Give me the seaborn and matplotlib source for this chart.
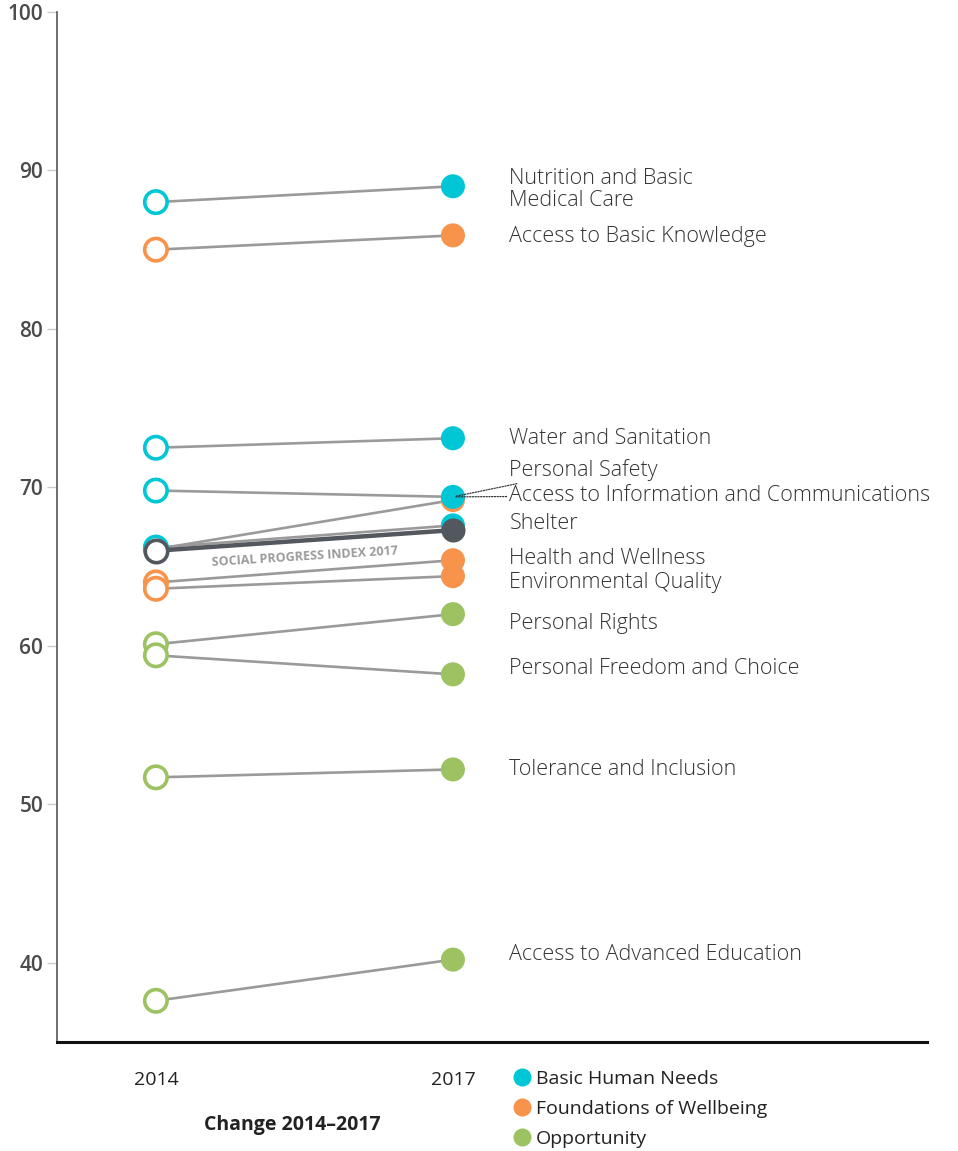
import numpy as np
import pandas as pd
import matplotlib
matplotlib.use("Agg")
import matplotlib.pyplot as plt
from matplotlib.lines import Line2D
import seaborn as sns

years = ["2014", "2017"]
components = [
    "Nutrition and Basic\nMedical Care",
    "Access to Basic Knowledge",
    "Water and Sanitation",
    "Personal Safety",
    "Access to Information and Communications",
    "Shelter",
    "Health and Wellness",
    "Environmental Quality",
    "Personal Rights",
    "Personal Freedom and Choice",
    "Tolerance and Inclusion",
    "Access to Advanced Education",
]
dimension = [
    "Basic Human Needs",
    "Foundations of Wellbeing",
    "Basic Human Needs",
    "Basic Human Needs",
    "Foundations of Wellbeing",
    "Basic Human Needs",
    "Foundations of Wellbeing",
    "Foundations of Wellbeing",
    "Opportunity",
    "Opportunity",
    "Opportunity",
    "Opportunity",
]
score_2014 = [88.0, 85.0, 72.5, 69.8, 66.1, 66.2, 64.0, 63.6, 60.1, 59.4, 51.7, 37.6]
score_2017 = [89.0, 85.9, 73.1, 69.4, 69.2, 67.6, 65.4, 64.4, 62.0, 58.2, 52.2, 40.2]
spi_name = "SOCIAL PROGRESS INDEX 2017"
spi_scores = [66.0, 67.3]

dimensions = ["Basic Human Needs", "Foundations of Wellbeing", "Opportunity"]
palette = {"Basic Human Needs": "#00c6d6",
           "Foundations of Wellbeing": "#f7934a",
           "Opportunity": "#9cc262"}

# label placement (layout only, in score units)
label_y = [88.8, 85.8, 73.1, 71.1, 69.5, 67.7, 65.5, 64.0, 61.4, 58.6, 52.2, 40.5]
label_x = 1.19

df = pd.DataFrame({
    "component": components * 2,
    "dimension": dimension * 2,
    "xpos": [0] * len(components) + [1] * len(components),
    "score": score_2014 + score_2017,
})
# basic human needs markers drawn last so they sit on top where points overlap
df["order"] = df["dimension"].map({d: -i for i, d in enumerate(dimensions)})
df = df.sort_values("order", kind="stable")
spi_df = pd.DataFrame({"component": spi_name, "xpos": [0, 1], "score": spi_scores})

plt.rcParams["font.family"] = ["Open Sans", "DejaVu Sans"]
fig, ax = plt.subplots(figsize=(9.58, 11.51), dpi=100)
fig.subplots_adjust(left=0.0595, right=0.9676, top=0.9896, bottom=0.0947)

sns.lineplot(data=df, x="xpos", y="score", units="component", estimator=None,
             color="#9a9a9a", linewidth=1.9, ax=ax, zorder=1, legend=False)

first = df[df["xpos"] == 0]
last = df[df["xpos"] == 1]
sns.scatterplot(data=first, x="xpos", y="score", hue="dimension", palette=palette,
                s=260, ax=ax, zorder=3, legend=False)
hollow = ax.collections[-1]
hollow.set_edgecolor(hollow.get_facecolor())
hollow.set_facecolor("white")
hollow.set_linewidth(2.6)
sns.scatterplot(data=last, x="xpos", y="score", hue="dimension", palette=palette,
                s=300, linewidth=0, ax=ax, zorder=3, legend=False)

# Social Progress Index on top
sns.lineplot(data=spi_df, x="xpos", y="score", color="#53575e", linewidth=3.2,
             ax=ax, zorder=4, legend=False)
ax.scatter([0], [spi_scores[0]], s=260, facecolor="white", edgecolor="#53575e",
           linewidth=2.6, zorder=5)
ax.scatter([1], [spi_scores[1]], s=300, color="#53575e", linewidth=0, zorder=5)
ax.text(0.5, np.mean(spi_scores) - 1.0, spi_name, rotation=3.6, ha="center", va="center",
        fontsize=9, fontweight="bold", color="#9a9a9a", rotation_mode="anchor")

for name, ly, val in zip(components, label_y, score_2017):
    if name in ("Personal Safety", "Access to Information and Communications"):
        ax.annotate(name, xy=(1.0, 69.4), xytext=(label_x, ly), fontsize=15.5,
                    color="#333333", va="center", ha="left", fontweight="light",
                    arrowprops=dict(arrowstyle="-", linestyle=(0, (1, 1.2)),
                                    color="#333333", linewidth=0.9,
                                    shrinkA=0, shrinkB=2))
    else:
        ax.text(label_x, ly, name, fontsize=15.5, color="#333333", va="center",
                ha="left", linespacing=1.05, fontweight="light")

ax.set_xlim(-0.333, 2.596)
ax.set_ylim(35, 100)
ax.set_yticks([40, 50, 60, 70, 80, 90, 100])
ax.set_xticks([0, 1])
ax.set_xticklabels(years)
ax.set_xlabel("")
ax.set_ylabel("")
ax.tick_params(axis="y", length=7, width=1, color="#cccccc", labelsize=15,
               labelcolor="#4a4a4a", pad=3)
ax.tick_params(axis="x", length=0, labelsize=14, labelcolor="#222222", pad=21)
for lab in ax.get_yticklabels():
    lab.set_fontweight("semibold")
for side in ("top", "right"):
    ax.spines[side].set_visible(False)
ax.spines["left"].set_color("#555555")
ax.spines["left"].set_linewidth(1.2)
ax.spines["bottom"].set_color("#111111")
ax.spines["bottom"].set_linewidth(2.2)

fig.text(292 / 958, 1 - 1125 / 1151, "Change 2014\u20132017", ha="center", va="center",
         fontsize=14, fontweight="bold", color="#222222")

handles = [Line2D([0], [0], marker="o", linestyle="", markersize=13,
                  markerfacecolor=palette[d], markeredgewidth=0) for d in dimensions]
fig.legend(handles, dimensions, loc="upper left",
           bbox_to_anchor=(503 / 958, 1 - 1062 / 1151), frameon=False,
           fontsize=14, handletextpad=0.1, labelspacing=0.62, borderaxespad=0,
           handlelength=1.2, labelcolor="#222222")

fig.savefig("out.png", dpi=100)
